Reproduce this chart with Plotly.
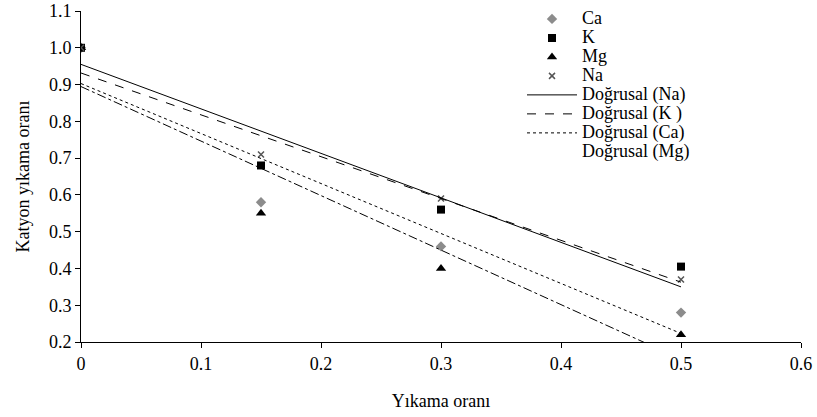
import numpy as np
import plotly.graph_objects as go

yikama = [0, 0.15, 0.3, 0.5]
ca = [1.0, 0.58, 0.46, 0.28]
k = [1.0, 0.68, 0.56, 0.405]
mg = [1.0, 0.55, 0.40, 0.22]
na = [1.0, 0.71, 0.59, 0.37]

x_ticks = [0, 0.1, 0.2, 0.3, 0.4, 0.5, 0.6]
x_ticktext = ["0", "0.1", "0.2", "0.3", "0.4", "0.5", "0.6"]

FONT = "Liberation Serif"
FS = 18

def lab(t):
    return f'<span style="font-size:{FS}px">{t}</span>'

def fit(xs, ys):
    b, a = np.polyfit(xs, ys, 1)
    xe = [min(xs), max(xs)]
    return xe, [a + b * v for v in xe]

fig = go.Figure()
fig.add_trace(go.Scatter(x=yikama, y=ca, mode="markers", name=lab("Ca"),
                         marker=dict(symbol="diamond", size=8, color="#8c8c8c")))
fig.add_trace(go.Scatter(x=yikama, y=k, mode="markers", name=lab("K"),
                         marker=dict(symbol="square", size=8, color="black")))
fig.add_trace(go.Scatter(x=yikama, y=mg, mode="markers", name=lab("Mg"),
                         marker=dict(symbol="triangle-up", size=9, color="black")))
fig.add_trace(go.Scatter(x=yikama, y=na, mode="markers", name=lab("Na"),
                         marker=dict(symbol="x-thin", size=6, color="#555555",
                                     line=dict(width=1.5, color="#555555"))))

for ys, name, dash in [(na, "Doğrusal (Na)", "solid"),
                       (k, "Doğrusal (K )", "dash"),
                       (ca, "Doğrusal (Ca)", "dot")]:
    fx, fy = fit(yikama, ys)
    fig.add_trace(go.Scatter(x=fx, y=fy, mode="lines", name=lab(name),
                             line=dict(color="black", width=1, dash=dash)))

fx, fy = fit(yikama, mg)
fig.add_trace(go.Scatter(x=fx, y=fy, mode="lines", name="Doğrusal (Mg)", showlegend=False,
                         line=dict(color="black", width=1, dash="dashdot")))
fig.add_trace(go.Scatter(x=[None], y=[None], mode="lines", name=lab("Doğrusal (Mg)"),
                         line=dict(color="rgba(0,0,0,0)", width=1)))

fig.update_layout(
    width=817, height=417,
    margin=dict(l=81, r=16, t=11, b=75, autoexpand=False),
    paper_bgcolor="white", plot_bgcolor="white",
    font=dict(family=FONT, size=FS, color="black"),
    legend=dict(x=0.6125, y=1.02, xanchor="left", yanchor="top",
                bgcolor="rgba(0,0,0,0)", font=dict(family=FONT, size=12),
                tracegroupgap=0, itemwidth=50),
    xaxis=dict(range=[0, 0.6], tickvals=x_ticks, ticktext=x_ticktext,
               showgrid=False, zeroline=False, showline=True, linecolor="black",
               linewidth=1, ticks="outside", ticklen=5, tickcolor="black",
               tickfont=dict(size=FS),
               title=dict(text="Yıkama oranı", font=dict(family=FONT, size=FS), standoff=21)),
    yaxis=dict(range=[0.2, 1.1], dtick=0.1, tickformat=".1f",
               showgrid=False, zeroline=False, showline=True, linecolor="black",
               linewidth=1, ticks="outside", ticklen=5, tickcolor="black",
               tickfont=dict(size=FS),
               title=dict(text="Katyon yıkama oranı", font=dict(family=FONT, size=FS), standoff=14)),
)

fig.write_html("out.html",
               config={"displayModeBar": False},
               post_script="document.body.style.margin='0';document.body.style.overflow='hidden';")
